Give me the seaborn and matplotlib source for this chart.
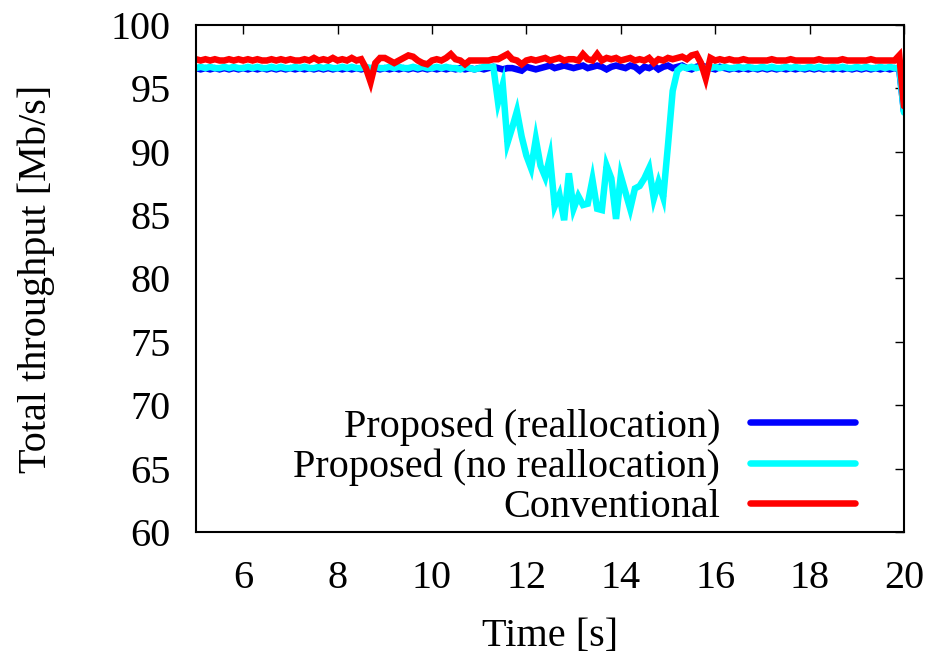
import numpy as np
import pandas as pd
import matplotlib
matplotlib.use("Agg")
import matplotlib.pyplot as plt
import seaborn as sns

# Sampling instants [s], every 0.1 s from 5 to 20
time_s = np.round(np.arange(5.0, 20.0001, 0.1), 1)

# Total throughput [Mb/s] -- proposed scheme with reallocation
proposed_realloc = [
    96.6, 96.5, 96.6, 96.5, 96.6, 96.5, 96.6, 96.5, 96.6, 96.5,
    96.6, 96.5, 96.6, 96.5, 96.6, 96.5, 96.6, 96.5, 96.6, 96.5,
    96.6, 96.5, 96.6, 96.5, 96.6, 96.5, 96.6, 96.5, 96.6, 96.5,
    96.6, 96.5, 96.6, 96.5, 96.6, 96.5, 96.6, 96.5, 96.6, 96.5,
    96.6, 96.5, 96.6, 96.5, 96.6, 96.5, 96.6, 96.5, 96.6, 96.5,
    96.6, 96.5, 96.6, 96.5, 96.6, 96.5, 96.6, 96.5, 96.6, 96.5,
    96.6, 96.5, 96.6, 96.7, 96.6, 96.5, 96.6, 96.6, 96.5, 96.4,
    96.7, 96.6, 96.5, 96.6, 96.7, 96.8, 96.6, 96.7, 96.8, 96.7,
    96.6, 96.7, 96.8, 96.6, 96.7, 96.8, 96.7, 96.5, 96.7, 96.8,
    96.7, 96.6, 96.8, 96.7, 96.4, 96.7, 96.6, 96.8, 96.5, 96.7,
    96.8, 96.6, 96.7, 96.8, 96.6, 96.5, 96.7, 96.8, 96.7, 96.6,
    96.5, 96.7, 96.6, 96.5, 96.6, 96.5, 96.6, 96.5, 96.6, 96.5,
    96.6, 96.5, 96.6, 96.5, 96.6, 96.5, 96.6, 96.5, 96.6, 96.5,
    96.6, 96.5, 96.6, 96.5, 96.6, 96.5, 96.6, 96.5, 96.6, 96.5,
    96.6, 96.5, 96.6, 96.5, 96.6, 96.5, 96.6, 96.5, 96.6, 96.5,
    93.2,
]

# Total throughput [Mb/s] -- proposed scheme without reallocation
proposed_no_realloc = [
    96.6, 96.7, 96.6, 96.7, 96.6, 96.6, 96.7, 96.6, 96.7, 96.6,
    96.6, 96.7, 96.6, 96.7, 96.6, 96.6, 96.7, 96.6, 96.7, 96.6,
    96.6, 96.7, 96.6, 96.7, 96.6, 96.6, 96.7, 96.6, 96.7, 96.6,
    96.6, 96.7, 96.6, 96.7, 96.6, 96.6, 96.7, 96.6, 96.7, 96.6,
    96.6, 96.7, 96.6, 96.7, 96.6, 96.6, 96.7, 96.6, 96.7, 96.6,
    96.6, 96.7, 96.6, 96.7, 96.6, 96.6, 96.5, 96.7, 96.6, 96.5,
    96.6, 96.7, 96.7, 96.7, 93.9, 95.3, 90.7, 91.9, 93.2, 91.2,
    89.7, 88.7, 91.0, 88.9, 88.0, 89.6, 85.7, 86.6, 84.6, 88.3,
    85.5, 86.5, 85.8, 85.9, 87.8, 85.5, 85.4, 88.9, 87.9, 84.7,
    88.1, 86.8, 85.5, 87.1, 87.3, 87.9, 88.7, 86.3, 87.6, 86.4,
    90.5, 94.8, 96.4, 96.7, 96.6, 96.7, 96.6, 96.7, 96.6, 96.6,
    96.7, 96.6, 96.7, 96.6, 96.6, 96.7, 96.6, 96.7, 96.6, 96.6,
    96.7, 96.6, 96.7, 96.6, 96.6, 96.7, 96.6, 96.7, 96.6, 96.6,
    96.7, 96.6, 96.7, 96.6, 96.6, 96.7, 96.6, 96.7, 96.6, 96.6,
    96.7, 96.6, 96.7, 96.6, 96.6, 96.7, 96.6, 96.7, 96.6, 96.6,
    93.1,
]

# Total throughput [Mb/s] -- conventional scheme
conventional = [
    97.3, 97.2, 97.3, 97.2, 97.3, 97.2, 97.2, 97.3, 97.2, 97.3,
    97.2, 97.3, 97.2, 97.3, 97.2, 97.2, 97.3, 97.2, 97.3, 97.2,
    97.3, 97.2, 97.2, 97.3, 97.2, 97.4, 97.2, 97.3, 97.2, 97.4,
    97.2, 97.3, 97.2, 97.4, 97.2, 97.3, 96.6, 95.5, 97.0, 97.4,
    97.4, 97.2, 97.0, 97.2, 97.4, 97.6, 97.5, 97.2, 97.0, 96.9,
    97.2, 97.3, 97.2, 97.4, 97.7, 97.3, 97.2, 96.9, 97.2, 97.2,
    97.2, 97.2, 97.2, 97.3, 97.3, 97.5, 97.7, 97.3, 97.2, 96.9,
    97.2, 97.3, 97.2, 97.3, 97.4, 97.2, 97.3, 97.4, 97.2, 97.3,
    97.3, 97.2, 97.7, 97.3, 97.2, 97.7, 97.2, 97.4, 97.3, 97.4,
    97.2, 97.3, 97.4, 97.2, 97.3, 97.2, 97.4, 97.0, 97.3, 97.2,
    97.4, 97.3, 97.4, 97.5, 97.3, 97.6, 97.7, 97.0, 95.8, 97.4,
    97.2, 97.3, 97.2, 97.3, 97.2, 97.2, 97.3, 97.2, 97.2, 97.2,
    97.2, 97.2, 97.3, 97.2, 97.2, 97.2, 97.3, 97.2, 97.2, 97.2,
    97.2, 97.2, 97.3, 97.2, 97.2, 97.2, 97.2, 97.3, 97.2, 97.2,
    97.2, 97.2, 97.2, 97.3, 97.2, 97.2, 97.2, 97.2, 97.2, 97.6,
    93.6,
]

series_labels = ["Proposed (reallocation)", "Proposed (no reallocation)", "Conventional"]
series_colors = ["#0000ff", "#00ffff", "#ff0000"]

x_ticks = [6, 8, 10, 12, 14, 16, 18, 20]
y_ticks = [60, 65, 70, 75, 80, 85, 90, 95, 100]

sns.set_theme(style="white")
plt.rcParams["font.family"] = ["Liberation Serif", "DejaVu Serif"]
plt.rcParams["text.color"] = "black"
plt.rcParams["axes.labelcolor"] = "black"
plt.rcParams["xtick.color"] = "black"
plt.rcParams["ytick.color"] = "black"

fig = plt.figure(figsize=(9.35, 6.58), dpi=100)
ax = fig.add_axes([0.2096, 0.1915, 0.7572, 0.7705])

for vals, lab, col in zip([proposed_realloc, proposed_no_realloc, conventional],
                          series_labels, series_colors):
    df = pd.DataFrame({"time": time_s, "thr": vals})
    sns.lineplot(data=df, x="time", y="thr", color=col, lw=4.7, label=lab,
                 ax=ax, solid_joinstyle="miter")

ax.set_xlim(5, 20)
ax.set_ylim(60, 100)
ax.set_xticks(x_ticks)
ax.set_yticks(y_ticks)
ax.tick_params(axis="both", which="both", direction="in", length=6.5, width=1.0,
               top=True, right=True, labelsize=29, colors="black")
ax.tick_params(axis="x", pad=20)
ax.tick_params(axis="y", pad=18)
for sp in ax.spines.values():
    sp.set_visible(True)
    sp.set_color("black")
    sp.set_linewidth(1.5)

ax.set_xlabel("Time [s]", fontsize=29, labelpad=15, color="black")
ax.set_ylabel("Total throughput [Mb/s]", fontsize=29, labelpad=40, color="black")

leg = ax.legend(loc="lower right", bbox_to_anchor=(0.931, 0.012), frameon=False,
                markerfirst=False, fontsize=29, handlelength=2.6,
                handletextpad=0.75, labelspacing=0.07, borderpad=0.0,
                borderaxespad=0.0)
for h in leg.get_lines():
    h.set_linewidth(4.7)
for t in leg.get_texts():
    t.set_color("black")

fig.savefig("out.png", dpi=100)
